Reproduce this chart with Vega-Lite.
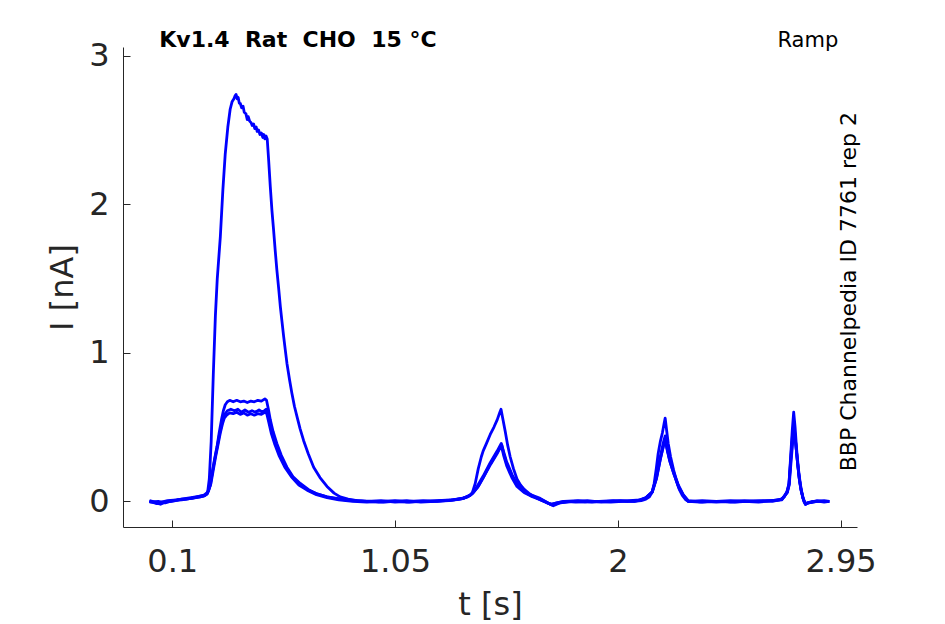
{
"$schema": "https://vega.github.io/schema/vega-lite/v6.json",
"width": 734, "height": 480,
"autosize": {"type": "none"},
"padding": {"left": 123, "top": 47, "right": 88, "bottom": 97},
"background": "white",
"config": {"view": {"stroke": null}, "font": "DejaVu Sans"},
"datasets": {
"traces": [
{"s":"A","t":0.003,"i":0.0},{"s":"A","t":0.03,"i":-0.01},{"s":"A","t":0.05,"i":-0.02},{"s":"A","t":0.08,"i":0.0},{"s":"A","t":0.12,"i":0.01},{"s":"A","t":0.16,"i":0.015},{"s":"A","t":0.2,"i":0.025},{"s":"A","t":0.235,"i":0.035},{"s":"A","t":0.25,"i":0.05},{"s":"A","t":0.258,"i":0.15},{"s":"A","t":0.266,"i":0.4},{"s":"A","t":0.275,"i":0.85},{"s":"A","t":0.284,"i":1.25},{"s":"A","t":0.292,"i":1.5},{"s":"A","t":0.305,"i":1.78},{"s":"A","t":0.316,"i":2.1},{"s":"A","t":0.326,"i":2.34},{"s":"A","t":0.337,"i":2.52},{"s":"A","t":0.347,"i":2.64},{"s":"A","t":0.355,"i":2.69},{"s":"A","t":0.363,"i":2.71},{"s":"A","t":0.368,"i":2.73},{"s":"A","t":0.372,"i":2.74},{"s":"A","t":0.377,"i":2.71},{"s":"A","t":0.381,"i":2.72},{"s":"A","t":0.386,"i":2.68},{"s":"A","t":0.39,"i":2.68},{"s":"A","t":0.396,"i":2.65},{"s":"A","t":0.402,"i":2.66},{"s":"A","t":0.407,"i":2.62},{"s":"A","t":0.414,"i":2.61},{"s":"A","t":0.42,"i":2.57},{"s":"A","t":0.424,"i":2.59},{"s":"A","t":0.43,"i":2.56},{"s":"A","t":0.436,"i":2.55},{"s":"A","t":0.441,"i":2.53},{"s":"A","t":0.447,"i":2.54},{"s":"A","t":0.452,"i":2.51},{"s":"A","t":0.458,"i":2.52},{"s":"A","t":0.462,"i":2.49},{"s":"A","t":0.468,"i":2.5},{"s":"A","t":0.474,"i":2.47},{"s":"A","t":0.48,"i":2.48},{"s":"A","t":0.486,"i":2.45},{"s":"A","t":0.49,"i":2.47},{"s":"A","t":0.495,"i":2.44},{"s":"A","t":0.5,"i":2.46},{"s":"A","t":0.505,"i":2.44},{"s":"A","t":0.511,"i":2.3},{"s":"A","t":0.518,"i":2.12},{"s":"A","t":0.525,"i":1.96},{"s":"A","t":0.532,"i":1.83},{"s":"A","t":0.539,"i":1.69},{"s":"A","t":0.546,"i":1.56},{"s":"A","t":0.554,"i":1.43},{"s":"A","t":0.561,"i":1.31},{"s":"A","t":0.568,"i":1.21},{"s":"A","t":0.575,"i":1.11},{"s":"A","t":0.582,"i":1.02},{"s":"A","t":0.589,"i":0.93},{"s":"A","t":0.6,"i":0.82},{"s":"A","t":0.61,"i":0.73},{"s":"A","t":0.621,"i":0.64},{"s":"A","t":0.632,"i":0.57},{"s":"A","t":0.645,"i":0.49},{"s":"A","t":0.66,"i":0.41},{"s":"A","t":0.68,"i":0.32},{"s":"A","t":0.703,"i":0.23},{"s":"A","t":0.73,"i":0.16},{"s":"A","t":0.76,"i":0.1},{"s":"A","t":0.79,"i":0.055},{"s":"A","t":0.816,"i":0.03},{"s":"A","t":0.85,"i":0.015},{"s":"A","t":0.888,"i":0.005},{"s":"A","t":0.95,"i":0.0},{"s":"A","t":1.0,"i":-0.005},{"s":"A","t":1.05,"i":0.0},{"s":"A","t":1.1,"i":-0.005},{"s":"A","t":1.15,"i":0.0},{"s":"A","t":1.2,"i":0.0},{"s":"A","t":1.25,"i":0.005},{"s":"A","t":1.3,"i":0.01},{"s":"A","t":1.34,"i":0.02},{"s":"A","t":1.37,"i":0.04},{"s":"A","t":1.38,"i":0.06},{"s":"A","t":1.392,"i":0.12},{"s":"A","t":1.405,"i":0.22},{"s":"A","t":1.418,"i":0.3},{"s":"A","t":1.426,"i":0.34},{"s":"A","t":1.44,"i":0.39},{"s":"A","t":1.456,"i":0.45},{"s":"A","t":1.472,"i":0.5},{"s":"A","t":1.486,"i":0.55},{"s":"A","t":1.497,"i":0.6},{"s":"A","t":1.502,"i":0.62},{"s":"A","t":1.508,"i":0.57},{"s":"A","t":1.52,"i":0.47},{"s":"A","t":1.53,"i":0.38},{"s":"A","t":1.541,"i":0.3},{"s":"A","t":1.555,"i":0.22},{"s":"A","t":1.57,"i":0.15},{"s":"A","t":1.585,"i":0.11},{"s":"A","t":1.601,"i":0.08},{"s":"A","t":1.62,"i":0.055},{"s":"A","t":1.634,"i":0.04},{"s":"A","t":1.655,"i":0.02},{"s":"A","t":1.675,"i":0.005},{"s":"A","t":1.698,"i":-0.01},{"s":"A","t":1.72,"i":-0.02},{"s":"A","t":1.74,"i":-0.01},{"s":"A","t":1.77,"i":0.0},{"s":"A","t":1.82,"i":-0.005},{"s":"A","t":1.87,"i":0.0},{"s":"A","t":1.92,"i":0.0},{"s":"A","t":1.97,"i":-0.005},{"s":"A","t":2.02,"i":0.0},{"s":"A","t":2.07,"i":0.0},{"s":"A","t":2.1,"i":0.005},{"s":"A","t":2.12,"i":0.015},{"s":"A","t":2.135,"i":0.03},{"s":"A","t":2.146,"i":0.06},{"s":"A","t":2.155,"i":0.12},{"s":"A","t":2.164,"i":0.22},{"s":"A","t":2.172,"i":0.32},{"s":"A","t":2.181,"i":0.4},{"s":"A","t":2.19,"i":0.46},{"s":"A","t":2.197,"i":0.52},{"s":"A","t":2.202,"i":0.56},{"s":"A","t":2.208,"i":0.48},{"s":"A","t":2.215,"i":0.39},{"s":"A","t":2.225,"i":0.3},{"s":"A","t":2.238,"i":0.21},{"s":"A","t":2.25,"i":0.14},{"s":"A","t":2.262,"i":0.08},{"s":"A","t":2.275,"i":0.04},{"s":"A","t":2.29,"i":0.01},{"s":"A","t":2.3,"i":0.0},{"s":"A","t":2.35,"i":-0.005},{"s":"A","t":2.4,"i":0.0},{"s":"A","t":2.45,"i":0.0},{"s":"A","t":2.5,"i":-0.005},{"s":"A","t":2.55,"i":0.0},{"s":"A","t":2.6,"i":0.0},{"s":"A","t":2.65,"i":0.005},{"s":"A","t":2.69,"i":0.01},{"s":"A","t":2.71,"i":0.03},{"s":"A","t":2.722,"i":0.07},{"s":"A","t":2.73,"i":0.12},{"s":"A","t":2.737,"i":0.3},{"s":"A","t":2.744,"i":0.48},{"s":"A","t":2.75,"i":0.6},{"s":"A","t":2.756,"i":0.5},{"s":"A","t":2.762,"i":0.36},{"s":"A","t":2.77,"i":0.22},{"s":"A","t":2.778,"i":0.12},{"s":"A","t":2.786,"i":0.05},{"s":"A","t":2.793,"i":0.0},{"s":"A","t":2.8,"i":-0.02},{"s":"A","t":2.81,"i":-0.01},{"s":"A","t":2.83,"i":0.0},{"s":"A","t":2.86,"i":0.0},{"s":"A","t":2.88,"i":-0.005},{"s":"A","t":2.902,"i":0.0},
{"s":"B","t":0.003,"i":0.005},{"s":"B","t":0.04,"i":-0.01},{"s":"B","t":0.08,"i":0.005},{"s":"B","t":0.12,"i":0.01},{"s":"B","t":0.16,"i":0.02},{"s":"B","t":0.2,"i":0.03},{"s":"B","t":0.235,"i":0.04},{"s":"B","t":0.25,"i":0.06},{"s":"B","t":0.26,"i":0.1},{"s":"B","t":0.27,"i":0.19},{"s":"B","t":0.28,"i":0.28},{"s":"B","t":0.291,"i":0.37},{"s":"B","t":0.3,"i":0.46},{"s":"B","t":0.31,"i":0.55},{"s":"B","t":0.318,"i":0.61},{"s":"B","t":0.326,"i":0.65},{"s":"B","t":0.335,"i":0.67},{"s":"B","t":0.345,"i":0.68},{"s":"B","t":0.36,"i":0.67},{"s":"B","t":0.375,"i":0.68},{"s":"B","t":0.39,"i":0.67},{"s":"B","t":0.405,"i":0.675},{"s":"B","t":0.42,"i":0.665},{"s":"B","t":0.435,"i":0.675},{"s":"B","t":0.45,"i":0.67},{"s":"B","t":0.465,"i":0.68},{"s":"B","t":0.48,"i":0.675},{"s":"B","t":0.495,"i":0.69},{"s":"B","t":0.502,"i":0.68},{"s":"B","t":0.51,"i":0.62},{"s":"B","t":0.518,"i":0.55},{"s":"B","t":0.53,"i":0.47},{"s":"B","t":0.546,"i":0.39},{"s":"B","t":0.565,"i":0.31},{"s":"B","t":0.589,"i":0.23},{"s":"B","t":0.615,"i":0.165},{"s":"B","t":0.646,"i":0.12},{"s":"B","t":0.68,"i":0.08},{"s":"B","t":0.717,"i":0.05},{"s":"B","t":0.76,"i":0.03},{"s":"B","t":0.802,"i":0.02},{"s":"B","t":0.85,"i":0.01},{"s":"B","t":0.888,"i":0.005},{"s":"B","t":0.93,"i":0.0},{"s":"B","t":0.99,"i":0.005},{"s":"B","t":1.05,"i":-0.005},{"s":"B","t":1.11,"i":0.0},{"s":"B","t":1.17,"i":0.005},{"s":"B","t":1.23,"i":0.0},{"s":"B","t":1.3,"i":0.01},{"s":"B","t":1.35,"i":0.025},{"s":"B","t":1.378,"i":0.05},{"s":"B","t":1.4,"i":0.1},{"s":"B","t":1.426,"i":0.17},{"s":"B","t":1.456,"i":0.26},{"s":"B","t":1.486,"i":0.34},{"s":"B","t":1.503,"i":0.39},{"s":"B","t":1.512,"i":0.34},{"s":"B","t":1.525,"i":0.27},{"s":"B","t":1.549,"i":0.18},{"s":"B","t":1.57,"i":0.12},{"s":"B","t":1.6,"i":0.07},{"s":"B","t":1.627,"i":0.045},{"s":"B","t":1.669,"i":0.02},{"s":"B","t":1.712,"i":-0.02},{"s":"B","t":1.74,"i":-0.01},{"s":"B","t":1.77,"i":0.0},{"s":"B","t":1.83,"i":0.005},{"s":"B","t":1.89,"i":-0.005},{"s":"B","t":1.95,"i":0.0},{"s":"B","t":2.01,"i":0.005},{"s":"B","t":2.07,"i":0.0},{"s":"B","t":2.117,"i":0.02},{"s":"B","t":2.146,"i":0.06},{"s":"B","t":2.164,"i":0.16},{"s":"B","t":2.181,"i":0.3},{"s":"B","t":2.195,"i":0.4},{"s":"B","t":2.202,"i":0.44},{"s":"B","t":2.21,"i":0.36},{"s":"B","t":2.219,"i":0.3},{"s":"B","t":2.238,"i":0.2},{"s":"B","t":2.258,"i":0.11},{"s":"B","t":2.279,"i":0.045},{"s":"B","t":2.3,"i":0.005},{"s":"B","t":2.36,"i":-0.005},{"s":"B","t":2.42,"i":0.0},{"s":"B","t":2.48,"i":0.005},{"s":"B","t":2.54,"i":0.0},{"s":"B","t":2.6,"i":-0.005},{"s":"B","t":2.66,"i":0.005},{"s":"B","t":2.7,"i":0.01},{"s":"B","t":2.722,"i":0.06},{"s":"B","t":2.73,"i":0.12},{"s":"B","t":2.738,"i":0.3},{"s":"B","t":2.745,"i":0.45},{"s":"B","t":2.75,"i":0.52},{"s":"B","t":2.756,"i":0.44},{"s":"B","t":2.764,"i":0.3},{"s":"B","t":2.772,"i":0.18},{"s":"B","t":2.78,"i":0.09},{"s":"B","t":2.79,"i":0.02},{"s":"B","t":2.8,"i":-0.015},{"s":"B","t":2.81,"i":-0.01},{"s":"B","t":2.85,"i":0.0},{"s":"B","t":2.902,"i":0.0},
{"s":"C","t":0.003,"i":-0.005},{"s":"C","t":0.04,"i":0.0},{"s":"C","t":0.07,"i":-0.01},{"s":"C","t":0.1,"i":0.005},{"s":"C","t":0.14,"i":0.01},{"s":"C","t":0.18,"i":0.02},{"s":"C","t":0.22,"i":0.03},{"s":"C","t":0.24,"i":0.04},{"s":"C","t":0.252,"i":0.06},{"s":"C","t":0.262,"i":0.11},{"s":"C","t":0.272,"i":0.2},{"s":"C","t":0.282,"i":0.29},{"s":"C","t":0.291,"i":0.36},{"s":"C","t":0.3,"i":0.44},{"s":"C","t":0.31,"i":0.51},{"s":"C","t":0.318,"i":0.56},{"s":"C","t":0.326,"i":0.59},{"s":"C","t":0.335,"i":0.61},{"s":"C","t":0.35,"i":0.62},{"s":"C","t":0.365,"i":0.61},{"s":"C","t":0.38,"i":0.62},{"s":"C","t":0.395,"i":0.6},{"s":"C","t":0.41,"i":0.615},{"s":"C","t":0.425,"i":0.6},{"s":"C","t":0.44,"i":0.61},{"s":"C","t":0.455,"i":0.6},{"s":"C","t":0.47,"i":0.615},{"s":"C","t":0.485,"i":0.6},{"s":"C","t":0.5,"i":0.62},{"s":"C","t":0.506,"i":0.6},{"s":"C","t":0.514,"i":0.54},{"s":"C","t":0.525,"i":0.46},{"s":"C","t":0.54,"i":0.39},{"s":"C","t":0.56,"i":0.31},{"s":"C","t":0.585,"i":0.23},{"s":"C","t":0.612,"i":0.165},{"s":"C","t":0.643,"i":0.115},{"s":"C","t":0.68,"i":0.075},{"s":"C","t":0.717,"i":0.05},{"s":"C","t":0.76,"i":0.03},{"s":"C","t":0.81,"i":0.015},{"s":"C","t":0.86,"i":0.005},{"s":"C","t":0.92,"i":0.0},{"s":"C","t":0.98,"i":-0.005},{"s":"C","t":1.04,"i":0.0},{"s":"C","t":1.1,"i":0.005},{"s":"C","t":1.16,"i":-0.005},{"s":"C","t":1.22,"i":0.0},{"s":"C","t":1.28,"i":0.005},{"s":"C","t":1.33,"i":0.015},{"s":"C","t":1.36,"i":0.03},{"s":"C","t":1.378,"i":0.05},{"s":"C","t":1.4,"i":0.09},{"s":"C","t":1.426,"i":0.16},{"s":"C","t":1.456,"i":0.25},{"s":"C","t":1.486,"i":0.33},{"s":"C","t":1.5,"i":0.37},{"s":"C","t":1.505,"i":0.38},{"s":"C","t":1.514,"i":0.32},{"s":"C","t":1.527,"i":0.25},{"s":"C","t":1.549,"i":0.17},{"s":"C","t":1.57,"i":0.11},{"s":"C","t":1.6,"i":0.065},{"s":"C","t":1.627,"i":0.04},{"s":"C","t":1.669,"i":0.015},{"s":"C","t":1.7,"i":-0.01},{"s":"C","t":1.72,"i":-0.025},{"s":"C","t":1.75,"i":-0.01},{"s":"C","t":1.8,"i":0.0},{"s":"C","t":1.86,"i":-0.005},{"s":"C","t":1.92,"i":0.0},{"s":"C","t":1.98,"i":0.005},{"s":"C","t":2.04,"i":0.0},{"s":"C","t":2.09,"i":0.005},{"s":"C","t":2.117,"i":0.02},{"s":"C","t":2.146,"i":0.06},{"s":"C","t":2.164,"i":0.15},{"s":"C","t":2.181,"i":0.28},{"s":"C","t":2.195,"i":0.38},{"s":"C","t":2.203,"i":0.42},{"s":"C","t":2.21,"i":0.35},{"s":"C","t":2.22,"i":0.28},{"s":"C","t":2.238,"i":0.19},{"s":"C","t":2.258,"i":0.1},{"s":"C","t":2.279,"i":0.04},{"s":"C","t":2.3,"i":0.0},{"s":"C","t":2.36,"i":0.0},{"s":"C","t":2.42,"i":-0.005},{"s":"C","t":2.48,"i":0.0},{"s":"C","t":2.54,"i":0.005},{"s":"C","t":2.6,"i":0.0},{"s":"C","t":2.66,"i":0.005},{"s":"C","t":2.7,"i":0.015},{"s":"C","t":2.722,"i":0.06},{"s":"C","t":2.73,"i":0.11},{"s":"C","t":2.738,"i":0.28},{"s":"C","t":2.745,"i":0.42},{"s":"C","t":2.751,"i":0.49},{"s":"C","t":2.757,"i":0.42},{"s":"C","t":2.765,"i":0.28},{"s":"C","t":2.773,"i":0.16},{"s":"C","t":2.781,"i":0.08},{"s":"C","t":2.79,"i":0.02},{"s":"C","t":2.8,"i":-0.02},{"s":"C","t":2.812,"i":-0.01},{"s":"C","t":2.85,"i":0.0},{"s":"C","t":2.88,"i":0.005},{"s":"C","t":2.902,"i":0.0},
{"s":"D","t":0.003,"i":0.0},{"s":"D","t":0.035,"i":-0.015},{"s":"D","t":0.06,"i":-0.005},{"s":"D","t":0.1,"i":0.0},{"s":"D","t":0.14,"i":0.015},{"s":"D","t":0.18,"i":0.02},{"s":"D","t":0.22,"i":0.035},{"s":"D","t":0.245,"i":0.045},{"s":"D","t":0.255,"i":0.07},{"s":"D","t":0.265,"i":0.12},{"s":"D","t":0.275,"i":0.21},{"s":"D","t":0.285,"i":0.3},{"s":"D","t":0.295,"i":0.38},{"s":"D","t":0.305,"i":0.46},{"s":"D","t":0.314,"i":0.52},{"s":"D","t":0.322,"i":0.56},{"s":"D","t":0.332,"i":0.58},{"s":"D","t":0.345,"i":0.595},{"s":"D","t":0.36,"i":0.59},{"s":"D","t":0.375,"i":0.6},{"s":"D","t":0.39,"i":0.585},{"s":"D","t":0.405,"i":0.595},{"s":"D","t":0.42,"i":0.58},{"s":"D","t":0.435,"i":0.59},{"s":"D","t":0.45,"i":0.58},{"s":"D","t":0.465,"i":0.59},{"s":"D","t":0.48,"i":0.585},{"s":"D","t":0.495,"i":0.6},{"s":"D","t":0.503,"i":0.59},{"s":"D","t":0.512,"i":0.53},{"s":"D","t":0.522,"i":0.46},{"s":"D","t":0.536,"i":0.39},{"s":"D","t":0.555,"i":0.31},{"s":"D","t":0.58,"i":0.23},{"s":"D","t":0.608,"i":0.165},{"s":"D","t":0.64,"i":0.11},{"s":"D","t":0.675,"i":0.075},{"s":"D","t":0.715,"i":0.045},{"s":"D","t":0.76,"i":0.025},{"s":"D","t":0.81,"i":0.01},{"s":"D","t":0.87,"i":0.0},{"s":"D","t":0.93,"i":-0.005},{"s":"D","t":0.99,"i":0.0},{"s":"D","t":1.05,"i":0.005},{"s":"D","t":1.11,"i":-0.005},{"s":"D","t":1.17,"i":0.0},{"s":"D","t":1.23,"i":0.005},{"s":"D","t":1.29,"i":0.01},{"s":"D","t":1.34,"i":0.02},{"s":"D","t":1.37,"i":0.04},{"s":"D","t":1.385,"i":0.06},{"s":"D","t":1.405,"i":0.1},{"s":"D","t":1.43,"i":0.17},{"s":"D","t":1.458,"i":0.25},{"s":"D","t":1.485,"i":0.32},{"s":"D","t":1.498,"i":0.36},{"s":"D","t":1.504,"i":0.37},{"s":"D","t":1.513,"i":0.31},{"s":"D","t":1.526,"i":0.24},{"s":"D","t":1.548,"i":0.16},{"s":"D","t":1.57,"i":0.1},{"s":"D","t":1.6,"i":0.06},{"s":"D","t":1.63,"i":0.035},{"s":"D","t":1.67,"i":0.01},{"s":"D","t":1.705,"i":-0.015},{"s":"D","t":1.725,"i":-0.03},{"s":"D","t":1.755,"i":-0.01},{"s":"D","t":1.81,"i":0.0},{"s":"D","t":1.87,"i":0.005},{"s":"D","t":1.93,"i":-0.005},{"s":"D","t":1.99,"i":0.0},{"s":"D","t":2.05,"i":0.005},{"s":"D","t":2.095,"i":0.01},{"s":"D","t":2.12,"i":0.025},{"s":"D","t":2.148,"i":0.065},{"s":"D","t":2.166,"i":0.16},{"s":"D","t":2.182,"i":0.29},{"s":"D","t":2.196,"i":0.38},{"s":"D","t":2.204,"i":0.41},{"s":"D","t":2.212,"i":0.34},{"s":"D","t":2.222,"i":0.27},{"s":"D","t":2.24,"i":0.18},{"s":"D","t":2.26,"i":0.095},{"s":"D","t":2.28,"i":0.04},{"s":"D","t":2.302,"i":0.0},{"s":"D","t":2.36,"i":0.005},{"s":"D","t":2.42,"i":0.0},{"s":"D","t":2.48,"i":-0.005},{"s":"D","t":2.54,"i":0.0},{"s":"D","t":2.6,"i":0.005},{"s":"D","t":2.66,"i":0.0},{"s":"D","t":2.7,"i":0.015},{"s":"D","t":2.723,"i":0.06},{"s":"D","t":2.731,"i":0.11},{"s":"D","t":2.739,"i":0.27},{"s":"D","t":2.746,"i":0.4},{"s":"D","t":2.752,"i":0.47},{"s":"D","t":2.758,"i":0.4},{"s":"D","t":2.766,"i":0.27},{"s":"D","t":2.774,"i":0.15},{"s":"D","t":2.782,"i":0.07},{"s":"D","t":2.791,"i":0.015},{"s":"D","t":2.801,"i":-0.02},{"s":"D","t":2.815,"i":-0.01},{"s":"D","t":2.85,"i":0.005},{"s":"D","t":2.88,"i":0.0},{"s":"D","t":2.902,"i":0.0}
],
"heading": [{"label": "Kv1.4\u00a0 Rat\u00a0 CHO\u00a0 15 °C", "t": 0.0446, "i": 3.059}],
"notes": [{"label": "Ramp", "t": 2.94, "i": 3.059}],
"side": [{"label": "BBP Channelpedia ID 7761 rep 2", "t": 3.0156, "i": 1.412}]
},
"layer": [
{
"data": {"name": "traces"},
"mark": {"type": "line", "color": "#0000ff", "strokeWidth": 2.8, "clip": true, "strokeJoin": "round"},
"encoding": {
"x": {"field": "t", "type": "quantitative",
"scale": {"domain": [-0.11, 3.02], "nice": false, "zero": false},
"axis": {"title": "t [s]", "values": [0.1, 1.05, 2, 2.95], "format": ".3~g", "grid": false,
"domainColor": "#262626", "domainWidth": 1, "tickColor": "#262626", "tickWidth": 1, "tickSize": -7,
"labelFont": "DejaVu Sans", "labelFontSize": 32, "labelColor": "#262626", "labelPadding": 26, "labelBaseline": "top", "labelFlush": false, "labelOverlap": false,
"titleFont": "DejaVu Sans", "titleFontSize": 32, "titleFontWeight": "normal", "titleColor": "#262626",
"titleX": 367, "titleY": 87, "titleBaseline": "alphabetic", "titleAlign": "center"}},
"y": {"field": "i", "type": "quantitative",
"scale": {"domain": [-0.173, 3.059], "nice": false, "zero": false},
"axis": {"title": "I [nA]", "values": [0, 1, 2, 3], "format": "d", "grid": false,
"domainColor": "#262626", "domainWidth": 1, "tickColor": "#262626", "tickWidth": 1, "tickSize": -7,
"labelFont": "DejaVu Sans", "labelFontSize": 32, "labelColor": "#262626", "labelPadding": 21, "labelBaseline": "middle", "labelFlush": false, "labelOverlap": false,
"titleFont": "DejaVu Sans", "titleFontSize": 32, "titleFontWeight": "normal", "titleColor": "#262626",
"titleX": -51, "titleY": 240, "titleBaseline": "alphabetic", "titleAlign": "center", "titleAngle": 270}},
"detail": {"field": "s", "type": "nominal"}
}
},
{
"data": {"name": "heading"},
"mark": {"type": "text", "align": "left", "baseline": "alphabetic", "font": "DejaVu Sans", "fontSize": 22, "fontWeight": "bold", "color": "#000000"},
"encoding": {
"x": {"field": "t", "type": "quantitative"},
"y": {"field": "i", "type": "quantitative"},
"text": {"field": "label"}
}
},
{
"data": {"name": "notes"},
"mark": {"type": "text", "align": "right", "baseline": "alphabetic", "font": "DejaVu Sans", "fontSize": 21, "color": "#000000"},
"encoding": {
"x": {"field": "t", "type": "quantitative"},
"y": {"field": "i", "type": "quantitative"},
"text": {"field": "label"}
}
},
{
"data": {"name": "side"},
"mark": {"type": "text", "align": "center", "baseline": "alphabetic", "angle": 270, "font": "DejaVu Sans", "fontSize": 22, "color": "#000000"},
"encoding": {
"x": {"field": "t", "type": "quantitative"},
"y": {"field": "i", "type": "quantitative"},
"text": {"field": "label"}
}
}
]
}
